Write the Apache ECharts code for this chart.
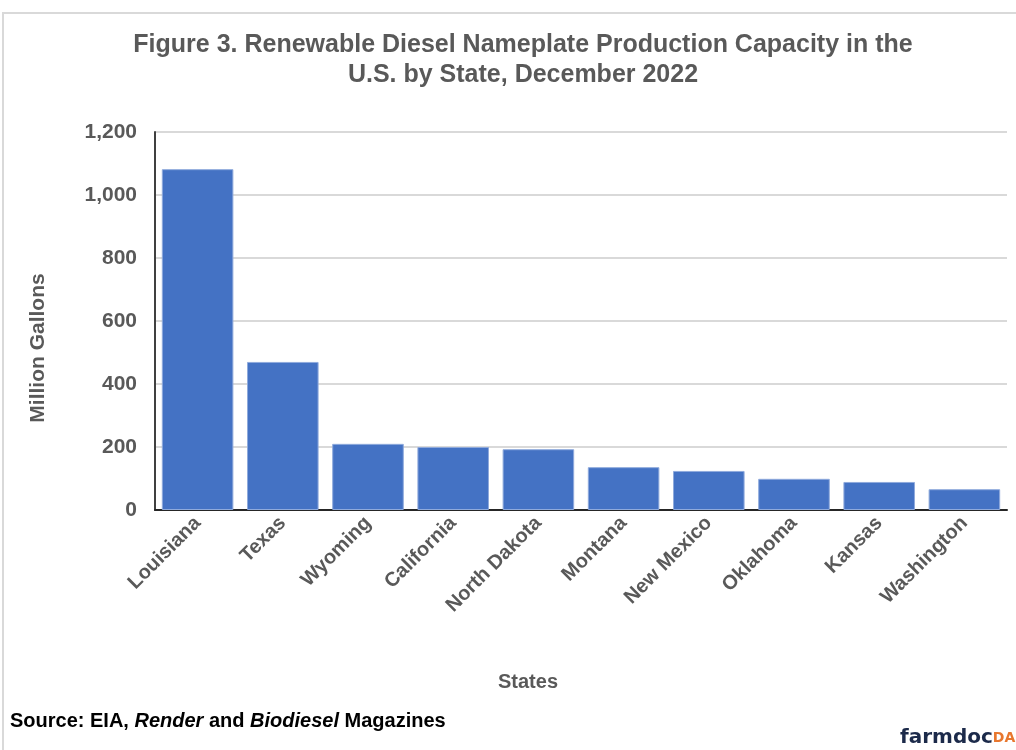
<!DOCTYPE html>
<html>
<head>
<meta charset="utf-8">
<script src="https://cdn.jsdelivr.net/npm/echarts@6/dist/echarts.min.js"></script>
<style>
  html, body { margin: 0; padding: 0; background: #fff; }
  #chart { width: 1016px; height: 750px; }
</style>
</head>
<body>
<div id="chart"></div>
<script>
// Data
const states = ['Louisiana', 'Texas', 'Wyoming', 'California', 'North Dakota',
  'Montana', 'New Mexico', 'Oklahoma', 'Kansas', 'Washington'];
const capacity = [1082, 470, 210, 200, 193, 136, 124, 99, 89, 66];
const yTicks = [0, 200, 400, 600, 800, 1000, 1200];

const gray = '#595959';
const font = '"Liberation Sans", Arial, sans-serif';

const chart = echarts.init(document.getElementById('chart'));

chart.setOption({
  backgroundColor: '#fff',
  animation: false,
  textStyle: { fontFamily: font },
  title: {
    text: 'Figure 3. Renewable Diesel Nameplate Production Capacity in the\nU.S. by State, December 2022',
    left: 518,
    top: 25,
    textAlign: 'center',
    textStyle: { fontFamily: font, fontSize: 25, fontWeight: 'bold', color: gray, lineHeight: 30 }
  },
  grid: { left: 155, right: 9, top: 132, bottom: 240 },
  xAxis: {
    type: 'category',
    data: states,
    axisLine: { lineStyle: { color: '#262626', width: 2 } },
    axisTick: { show: false },
    axisLabel: {
      rotate: 45,
      interval: 0,
      margin: 10,
      fontFamily: font,
      fontSize: 20,
      fontWeight: 'bold',
      color: gray
    }
  },
  yAxis: {
    type: 'value',
    min: yTicks[0],
    max: yTicks[yTicks.length - 1],
    interval: 200,
    axisLine: { show: true, lineStyle: { color: '#404040', width: 2 } },
    axisTick: { show: false },
    axisLabel: {
      margin: 18,
      fontFamily: font,
      fontSize: 21,
      fontWeight: 'bold',
      color: gray,
      formatter: v => v.toLocaleString('en-US')
    },
    splitLine: { lineStyle: { color: '#d9d9d9', width: 2 } }
  },
  series: [{
    type: 'bar',
    data: capacity,
    barCategoryGap: '16%',
    itemStyle: { color: '#4472c4', borderColor: '#8faadc', borderWidth: 1 }
  }],
  graphic: [
    {
      type: 'rect',
      silent: true,
      shape: { x: 3, y: 13, width: 1100, height: 800 },
      style: { fill: 'none', stroke: '#d9d9d9', lineWidth: 2 }
    },
    {
      // y axis name
      type: 'text',
      x: 38,
      y: 348,
      rotation: Math.PI / 2,
      style: {
        text: 'Million Gallons',
        font: 'bold 21px ' + font,
        fill: gray,
        align: 'center',
        verticalAlign: 'middle'
      }
    },
    {
      // x axis name
      type: 'text',
      x: 528,
      y: 682,
      style: {
        text: 'States',
        font: 'bold 20px ' + font,
        fill: gray,
        align: 'center',
        verticalAlign: 'middle'
      }
    },
    {
      type: 'text',
      left: 10,
      top: 711,
      style: {
        text: '{b|Source: EIA, }{i|Render}{b| and }{i|Biodiesel}{b| Magazines}',
        rich: {
          b: { fontFamily: font, fontSize: 20, fontWeight: 'bold', fill: '#000' },
          i: { fontFamily: font, fontSize: 20, fontWeight: 'bold', fontStyle: 'italic', fill: '#000' }
        }
      }
    },
    {
      type: 'text',
      left: 900,
      top: 728,
      style: {
        text: '{a|farmdoc}{d|DAILY}',
        rich: {
          a: { fontFamily: '"DejaVu Sans", sans-serif', fontSize: 20, fontWeight: 'bold', fill: '#1c2a4a' },
          d: { fontFamily: '"DejaVu Sans", sans-serif', fontSize: 14, fontWeight: 'bold', fill: '#e8772e' }
        }
      }
    }
  ]
});
</script>
</body>
</html>
